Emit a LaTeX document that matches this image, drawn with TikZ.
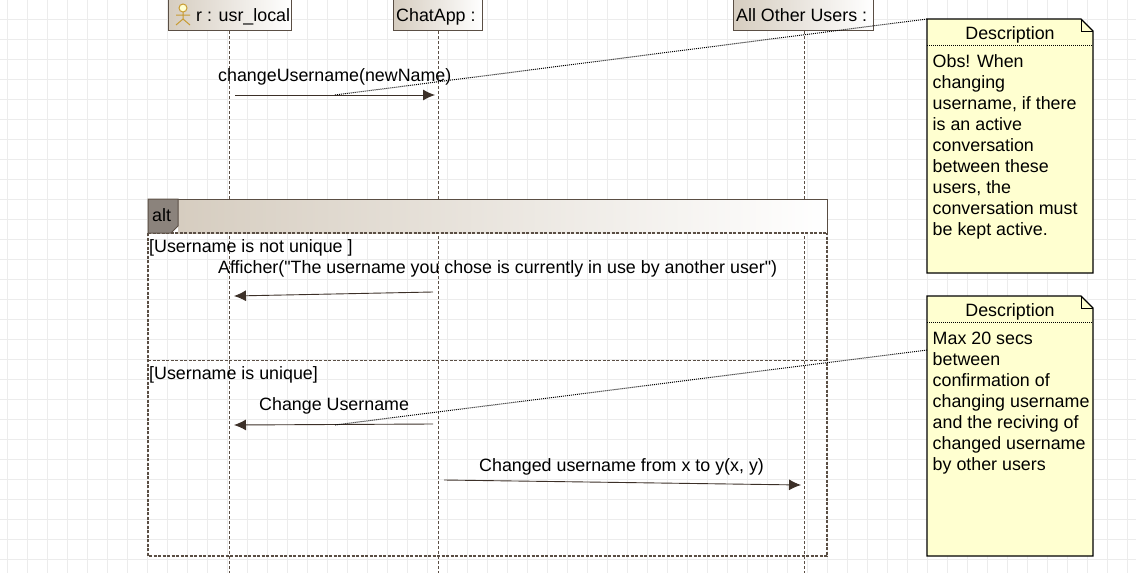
\documentclass[tikz,border=0pt]{standalone}
\usepackage{fontspec}
\setmainfont{Liberation Sans}[Ligatures=TeXOff]
\usetikzlibrary{arrows.meta}
\definecolor{umlBrown}{HTML}{5A4E44}
\definecolor{umlArrow}{HTML}{3C3028}
\definecolor{umlTan}{HTML}{D6CDC0}
\definecolor{noteFill}{HTML}{FFFFD0}
\definecolor{gridGray}{HTML}{ECECEC}
\definecolor{actorGold}{HTML}{C89B32}
\tikzset{
	headBox/.style={draw=umlBrown, line width=1pt, left color=umlTan, right color=white, minimum height=36pt, anchor=south west, inner sep=0pt},
	lifeLine/.style={draw=umlBrown, dashed, dash pattern=on 3pt off 2pt, line width=1pt},
	msgLine/.style={draw=umlArrow, line width=0.9pt, -{Latex[length=12pt, width=11pt]}},
	noteLine/.style={draw=black, line width=1pt, densely dotted},
	frameLine/.style={draw=umlBrown, line width=1.4pt, dashed, dash pattern=on 3pt off 1.5pt},
	noteBox/.style={draw=black, fill=noteFill, line width=1.2pt},
	msgText/.style={anchor=base west, inner sep=0pt, font=\fontsize{17.85}{21}\selectfont},
	noteTitle/.style={anchor=base, inner sep=0pt, font=\fontsize{17.85}{21}\selectfont},
	noteText/.style={anchor=north west, inner sep=0pt, align=left, font=\fontsize{17.85}{21}\selectfont},
}
\begin{document}
\begin{tikzpicture}[x=1pt, y=-1pt]
	\useasboundingbox (0,0) rectangle (1136,573);

	% grid
	\foreach \i in {7,27,...,1127} {
			\draw[gridGray, line width=0.8pt] (\i,0) -- (\i,573);
		}
	\foreach \j in {19,39,...,559} {
			\draw[gridGray, line width=0.8pt] (0,\j) -- (1136,\j);
		}

	% heads
	\node[headBox, minimum width=123pt] (usr) at (168,30.5) {};
	\node[headBox, minimum width=89pt] (chat) at (393,30.5) {};
	\node[headBox, minimum width=140pt] (others) at (733,30.5) {};
	\node[msgText] (usrlabel) at (196,21) {r : usr\_local};
	\node[msgText] (chatlabel) at (396,21) {ChatApp :};
	\node[msgText] (otherslabel) at (736,21) {All Other Users :};

	% actor
	\draw[actorGold, fill=noteFill, line width=1pt] (183,8) circle (4pt);
	\draw[actorGold, line width=1pt] (183,12) -- (183,19) (176,15) -- (190,15) (176,25) -- (183,19) -- (190,25);

	% life lines
	\coordinate (usrend) at (229,573);
	\coordinate (chatend) at (438,573);
	\coordinate (othersend) at (804,573);
	\draw[lifeLine] (229,31) -- (usrend);
	\draw[lifeLine] (438,31) -- (chatend);
	\draw[lifeLine] (804,31) -- (othersend);

	% alt frame
	\shade[left color=umlTan, right color=white] (178,199) rectangle (827,233);
	\draw[umlBrown, line width=1pt] (148,233) -- (148,199) -- (827,199) -- (827,233);
	\draw[frameLine] (148,233) -- (827,233);
	\draw[frameLine] (148,360.5) -- (827,360.5);
	\draw[frameLine] (148,233) -- (148,556) -- (827,556) -- (827,233);
	\draw[draw=umlBrown, fill=umlBrown!70, line width=1pt] (148,199) -- (178,199) -- (178,226) -- (171,233) -- (148,233) -- cycle;
	\node[msgText] (alt) at (152,221) {alt};
	\node[msgText] (guard1) at (149,252) {[Username is not unique ]};
	\node[msgText] (guard2) at (149,379) {[Username is unique]};

	% messages
	\coordinate (m1a) at (235,95);
	\coordinate (m1b) at (435,95);
	\coordinate (m2a) at (433,292);
	\coordinate (m2b) at (234,296);
	\coordinate (m3a) at (433,424);
	\coordinate (m3b) at (234,425);
	\coordinate (m4a) at (444,480);
	\coordinate (m4b) at (801,485);
	\draw[msgLine] (m1a) -- (m1b);
	\draw[msgLine] (m2a) -- (m2b);
	\draw[msgLine] (m3a) -- (m3b);
	\draw[msgLine] (m4a) -- (m4b);
	\node[msgText] (m1text) at (218,81) {changeUsername(newName)};
	\node[msgText] (m2text) at (218,273) {Afficher("The username you chose is currently in use by another user")};
	\node[msgText] (m3text) at (259,410) {Change Username};
	\node[msgText] (m4text) at (479,471) {Changed username from x to y(x, y)};

	% notes
	\draw[noteBox] (927,19) -- (1081,19) -- (1093,31) -- (1093,273) -- (927,273) -- cycle;
	\draw[black, line width=1pt] (1081,19) -- (1081,31) -- (1093,31);
	\draw[noteLine] (927,45) -- (1093,45);
	\node[noteTitle] (note1title) at (1010,39) {Description};
	\node[noteText] (note1text) at (932.5,54) {Obs! When\\changing\\username, if there\\is an active\\conversation\\between these\\users, the\\conversation must\\be kept active.};

	\draw[noteBox] (927,296) -- (1081,296) -- (1093,308) -- (1093,556) -- (927,556) -- cycle;
	\draw[black, line width=1pt] (1081,296) -- (1081,308) -- (1093,308);
	\draw[noteLine] (927,322) -- (1093,322);
	\node[noteTitle] (note2title) at (1010,316) {Description};
	\node[noteText] (note2text) at (932.5,332) {Max 20 secs\\between\\confirmation of\\changing username\\and the reciving of\\changed username\\by other users};

	% note links
	\coordinate (note1corner) at (927,19);
	\coordinate (note2corner) at (927,350);
	\coordinate (m1mid) at (335,95);
	\coordinate (m3mid) at (335,425);
	\draw[noteLine] (note1corner) -- (m1mid);
	\draw[noteLine] (note2corner) -- (m3mid);

\end{tikzpicture}
\end{document}
